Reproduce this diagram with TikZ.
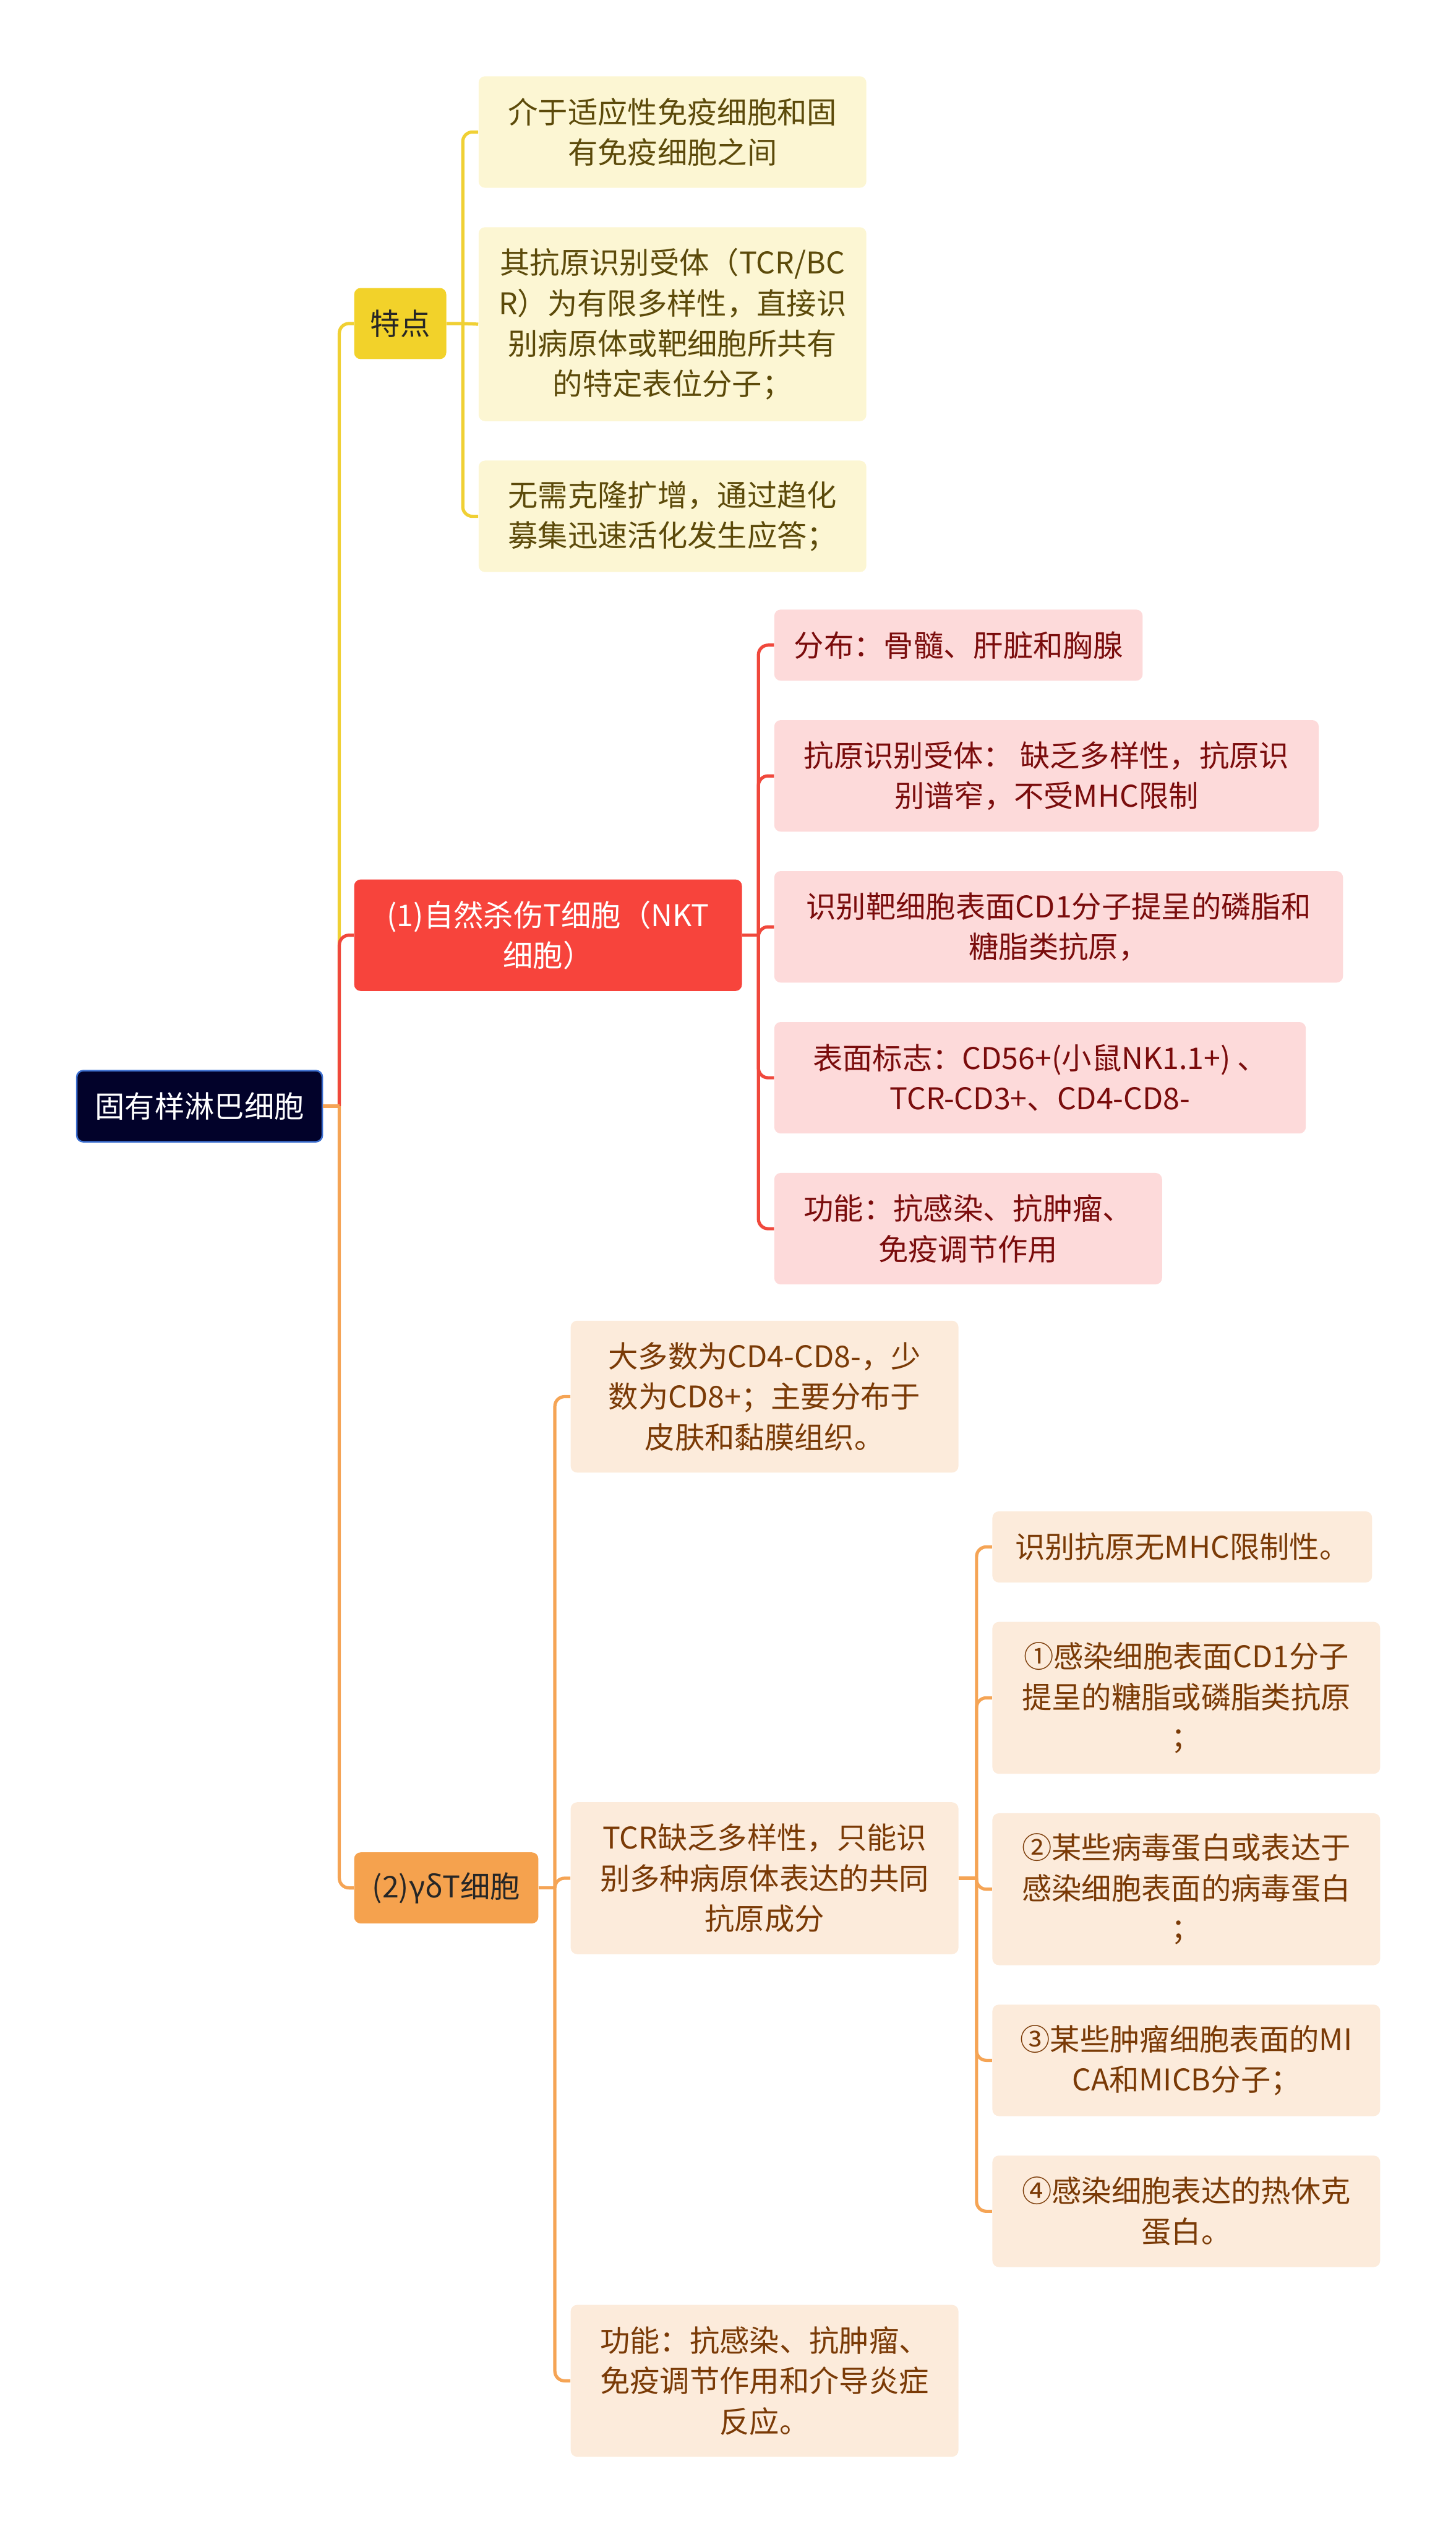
\documentclass[tikz,border=0pt]{standalone}
\usepackage{fontspec}
\setmainfont{Noto Sans CJK SC}
\usetikzlibrary{positioning}
\definecolor{rootbg}{HTML}{02022A}
\definecolor{rootln}{HTML}{3C6FD0}
\definecolor{ylwdark}{HTML}{F2D22A}
\definecolor{ylwlight}{HTML}{FCF6D3}
\definecolor{ylwtxt}{HTML}{5C4A0A}
\definecolor{ylwline}{HTML}{F0D034}
\definecolor{reddark}{HTML}{F7443C}
\definecolor{redlight}{HTML}{FDDADA}
\definecolor{redtxt}{HTML}{7A0C0C}
\definecolor{redline}{HTML}{F0483C}
\definecolor{orgdark}{HTML}{F5A24E}
\definecolor{orglight}{HTML}{FCEBDB}
\definecolor{orgtxt}{HTML}{7A3A06}
\definecolor{orgline}{HTML}{F5A455}

\begin{document}
\begin{tikzpicture}[
  x=1pt,y=-1pt,
  node distance=24pt,
  box/.style={rounded corners=4pt,align=center,inner sep=0pt,anchor=north west,
              font=\fontsize{18.5}{25}\selectfont},
  rootbox/.style={box,fill=rootbg,draw=rootln,line width=1pt,text=white},
  ylwmain/.style={box,fill=ylwdark,text=black!85},
  ylwleaf/.style={box,fill=ylwlight,text=ylwtxt,minimum width=240pt},
  redmain/.style={box,fill=reddark,text=white},
  redleaf/.style={box,fill=redlight,text=redtxt},
  orgmain/.style={box,fill=orgdark,text=black!85},
  orgleaf/.style={box,fill=orglight,text=orgtxt,minimum width=240pt},
  lnk/.style={line width=2pt,rounded corners=6pt},
  ylw/.style={lnk,ylwline}, red/.style={lnk,redline}, org/.style={lnk,orgline}
]
\useasboundingbox (0,0) rectangle (901,1568);

% root and first level
\node[rootbox,minimum width=152pt,minimum height=44pt] (root) at (47,662) {固有样淋巴细胞};
\node[ylwmain,minimum width=57pt,minimum height=44pt] (tedian) at (219,178) {特点};
\node[redmain,minimum width=240pt,minimum height=69pt] (nkt) at (219,544)
      {(1)自然杀伤T细胞（NKT\\细胞）};
\node[orgmain,minimum width=114pt,minimum height=44pt] (gdt) at (219,1146) {(2)γδT细胞};

% 特点
\node[ylwleaf,minimum height=69pt] (y1) at (296,47) {介于适应性免疫细胞和固\\有免疫细胞之间};
\node[ylwleaf,minimum height=120pt,below=of y1.south west,anchor=north west] (y2)
      {其抗原识别受体（TCR/BC\\R）为有限多样性，直接识\\别病原体或靶细胞所共有\\的特定表位分子；};
\node[ylwleaf,minimum height=69pt,below=of y2.south west,anchor=north west] (y3)
      {无需克隆扩增，通过趋化\\募集迅速活化发生应答；};

% NKT
\node[redleaf,minimum width=228pt,minimum height=44pt] (r1) at (479,377) {分布：骨髓、肝脏和胸腺};
\node[redleaf,minimum width=337pt,minimum height=69pt,below=of r1.south west,anchor=north west] (r2)
      {抗原识别受体： 缺乏多样性，抗原识\\别谱窄，不受MHC限制};
\node[redleaf,minimum width=352pt,minimum height=69pt,below=of r2.south west,anchor=north west] (r3)
      {识别靶细胞表面CD1分子提呈的磷脂和\\糖脂类抗原，};
\node[redleaf,minimum width=329pt,minimum height=69pt,below=of r3.south west,anchor=north west] (r4)
      {表面标志：CD56+(小鼠NK1.1+) 、\\TCR-CD3+、CD4-CD8-};
\node[redleaf,minimum width=240pt,minimum height=69pt,below=of r4.south west,anchor=north west] (r5)
      {功能：抗感染、抗肿瘤、\\免疫调节作用};

% gamma delta T
\node[orgleaf,minimum height=94pt] (o1) at (353,817) {大多数为CD4-CD8-，少\\数为CD8+；主要分布于\\皮肤和黏膜组织。};
\node[orgleaf,minimum height=94pt] (o2) at (353,1115) {TCR缺乏多样性，只能识\\别多种病原体表达的共同\\抗原成分};
\node[orgleaf,minimum height=94pt] (o3) at (353,1426) {功能：抗感染、抗肿瘤、\\免疫调节作用和介导炎症\\反应。};
\node[orgleaf,minimum width=235pt,minimum height=44pt] (s1) at (614,935) {识别抗原无MHC限制性。};
\node[orgleaf,minimum height=94pt,below=of s1.south west,anchor=north west] (s2)
      {①感染细胞表面CD1分子\\提呈的糖脂或磷脂类抗原\\；};
\node[orgleaf,minimum height=94pt,below=of s2.south west,anchor=north west] (s3)
      {②某些病毒蛋白或表达于\\感染细胞表面的病毒蛋白\\；};
\node[orgleaf,minimum height=69pt,below=of s3.south west,anchor=north west] (s4)
      {③某些肿瘤细胞表面的MI\\CA和MICB分子；};
\node[orgleaf,minimum height=69pt,below=of s4.south west,anchor=north west] (s5)
      {④感染细胞表达的热休克\\蛋白。};

% branches
\draw[ylw] (root.east) -- ++(10,0) coordinate (jr); \draw[ylw] (jr) |- (tedian.west);
\draw[red] (jr) |- (nkt.west); \draw[org] (root.east) -- (jr); \draw[org] (jr) |- (gdt.west);
\draw[ylw] (tedian.east) -- ++(10,0) coordinate (jt) -- (y2.west);
\draw[ylw] (jt) |- (y1.west); \draw[ylw] (jt) |- (y3.west);
\draw[red] (nkt.east) -- ++(10,0) coordinate (jn);
\draw[red] (jn) |- (r1.west); \draw[red] (jn) |- (r2.west); \draw[red] (jn) |- (r3.west);
\draw[red] (jn) |- (r4.west); \draw[red] (jn) |- (r5.west);
\draw[org] (gdt.east) -- ++(10,0) coordinate (jg);
\draw[org] (jg) |- (o1.west); \draw[org] (jg) |- (o2.west); \draw[org] (jg) |- (o3.west);
\draw[org] (o2.east) -- ++(11,0) coordinate (jo);
\draw[org] (jo) |- (s1.west); \draw[org] (jo) |- (s2.west); \draw[org] (jo) |- (s3.west);
\draw[org] (jo) |- (s4.west); \draw[org] (jo) |- (s5.west);
\end{tikzpicture}
\end{document}
